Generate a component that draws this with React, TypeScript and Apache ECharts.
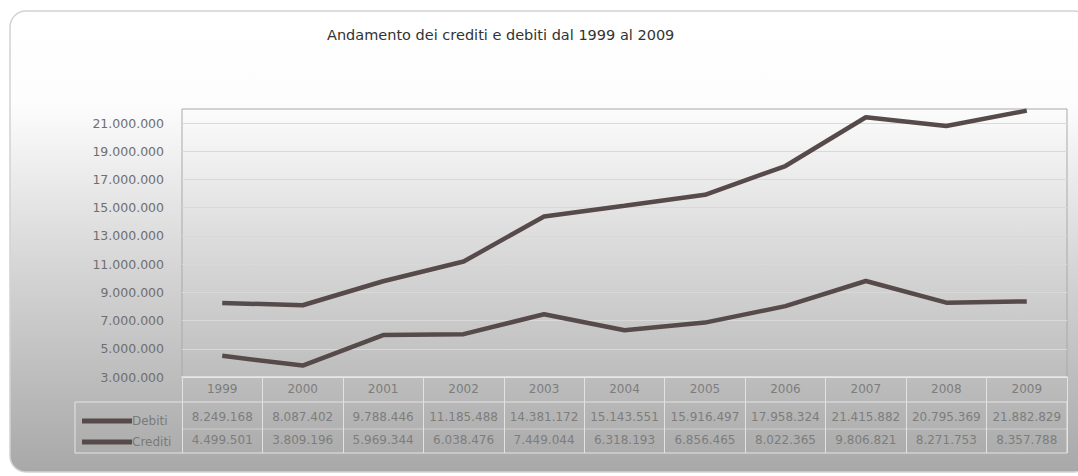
import React, { useEffect, useRef } from "react";
import * as echarts from "echarts";

const TITLE = "Andamento dei crediti e debiti dal 1999 al 2009";
const years = ["1999", "2000", "2001", "2002", "2003", "2004", "2005", "2006", "2007", "2008", "2009"];
const debiti = [8249168, 8087402, 9788446, 11185488, 14381172, 15143551, 15916497, 17958324, 21415882, 20795369, 21882829];
const crediti = [4499501, 3809196, 5969344, 6038476, 7449044, 6318193, 6856465, 8022365, 9806821, 8271753, 8357788];
const yMin = 3000000;
const yMax = 22000000;
const yStep = 1000000;

const fmt = (v: number) => String(Math.round(v)).replace(/\B(?=(\d{3})+(?!\d))/g, ".");

export default function App() {
  const ref = useRef<HTMLDivElement>(null);
  useEffect(() => {
    document.body.style.margin = "0";
    const chart = echarts.init(ref.current!, null, { renderer: "svg" });
    const lineColor = "#574a4a";
    const font = "DejaVu Sans";
    chart.setOption({
      animation: false,
      textStyle: { fontFamily: font },
      title: {
        text: TITLE,
        left: 322,
        top: 22,
        textStyle: { fontFamily: font, fontSize: 14.5, fontWeight: "normal", color: "#333" },
      },
      graphic: [
        {
          type: "rect",
          z: -100,
          silent: true,
          shape: { x: 10, y: 11, width: 1080, height: 461, r: 16 },
          style: {
            fill: new echarts.graphic.LinearGradient(0, 0, 0, 1, [
              { offset: 0, color: "#ffffff" },
              { offset: 0.2, color: "#fdfdfd" },
              { offset: 0.55, color: "#d6d6d6" },
              { offset: 1, color: "#a8a8a8" },
            ]),
            stroke: "#d2d2d2",
            lineWidth: 1.5,
          },
        },
        {
          type: "rect",
          z: 1,
          silent: true,
          shape: { x: 75, y: 402, width: 992, height: 51 },
          style: { fill: "none", stroke: "#e4e4e4", lineWidth: 1 },
        },
        {
          type: "line",
          z: 1,
          silent: true,
          shape: { x1: 182, y1: 429, x2: 1067, y2: 429 },
          style: { stroke: "rgba(235,235,235,0.5)", lineWidth: 1 },
        },
      ],
      legend: {
        orient: "vertical",
        left: 77,
        top: 410,
        itemGap: 9,
        itemWidth: 50,
        itemHeight: 5,
        icon: "rect",
        textStyle: { fontFamily: font, fontSize: 12, color: "#7a7a7a", padding: [0, 0, 0, -5] },
        data: ["Debiti", "Crediti"],
      },
      grid: {
        left: 182,
        right: 11,
        top: 109,
        bottom: 99,
        show: true,
        borderColor: "#a9a9a9",
        borderWidth: 1,
        backgroundColor: "transparent",
      },
      xAxis: {
        type: "category",
        data: years,
        boundaryGap: true,
        axisLine: { show: true, lineStyle: { color: "#ececec", width: 1.5 } },
        axisTick: { show: true, length: 76, inside: false, lineStyle: { color: "#e2e2e2" } },
        splitLine: { show: false },
        axisLabel: {
          interval: 0,
          margin: 0,
          formatter: (val: string, idx: number) =>
            `{y|${val}}\n{d|${fmt(debiti[idx])}}\n{c|${fmt(crediti[idx])}}`,
          rich: {
            y: { fontFamily: font, fontSize: 12, color: "#7d7d7d", lineHeight: 24, align: "center" },
            d: { fontFamily: font, fontSize: 12, color: "#7d7d7d", lineHeight: 32, align: "center" },
            c: { fontFamily: font, fontSize: 12, color: "#7d7d7d", lineHeight: 14, align: "center" },
          },
        },
      },
      yAxis: {
        type: "value",
        min: yMin,
        max: yMax,
        interval: yStep,
        axisLine: { show: false },
        axisTick: { show: false },
        axisLabel: {
          margin: 18,
          fontFamily: font,
          fontSize: 12.5,
          color: "#6f6f6f",
          formatter: (v: number) => (Math.round(v / yStep) % 2 === 1 ? fmt(v) : ""),
        },
        splitLine: {
          show: true,
          lineStyle: { color: ["#d9d9d9", "rgba(0,0,0,0)"], width: 1 },
        },
      },
      series: [
        {
          name: "Debiti",
          type: "line",
          data: debiti,
          symbol: "none",
          color: lineColor,
          lineStyle: { width: 4.5, color: lineColor },
        },
        {
          name: "Crediti",
          type: "line",
          data: crediti,
          symbol: "none",
          color: lineColor,
          lineStyle: { width: 4.5, color: lineColor },
        },
      ],
    });
    return () => chart.dispose();
  }, []);
  return <div ref={ref} style={{ width: 1078, height: 476 }} />;
}
